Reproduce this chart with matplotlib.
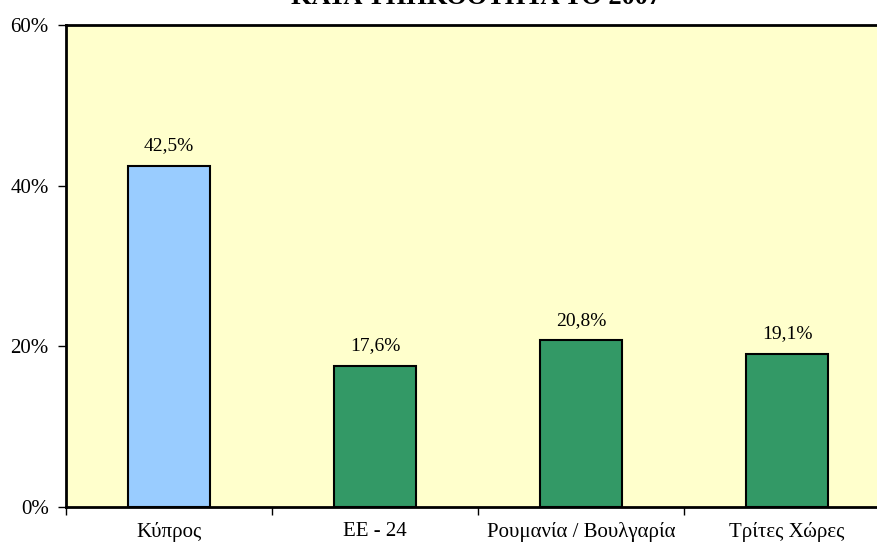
import matplotlib
matplotlib.use("Agg")
import matplotlib.pyplot as plt
import numpy as np

categories = ["Κύπρος", "ΕΕ - 24", "Ρουμανία / Βουλγαρία", "Τρίτες Χώρες"]
values = [42.5, 17.6, 20.8, 19.1]
labels = ["42,5%", "17,6%", "20,8%", "19,1%"]
colors = ["#99CCFF", "#339966", "#339966", "#339966"]
yticks = [0, 20, 40, 60]
ytick_labels = ["0%", "20%", "40%", "60%"]
title = "ΚΑΤΑ ΥΠΗΚΟΟΤΗΤΑ ΤΟ 2007"

plt.rcParams['font.family'] = ['Liberation Serif', 'DejaVu Serif']

W, H = 877, 549
fig = plt.figure(figsize=(W / 100, H / 100), dpi=100)
ax = fig.add_axes([66 / W, (H - 507) / H, 824 / W, 482 / H])
ax.set_facecolor("#FFFFCC")

x = np.arange(len(categories))
bars = ax.bar(x, values, width=0.4, color=colors, edgecolor="black", linewidth=1.5, zorder=3)
ax.set_xlim(-0.5, len(categories) - 0.5)
ax.set_ylim(0, 60)

ax.set_yticks(yticks)
ax.set_yticklabels(ytick_labels, fontsize=15)
ax.tick_params(axis='y', direction='out', length=6, width=1, pad=6.5)

ax.set_xticks(np.arange(len(categories) + 1) - 0.5)
ax.set_xticklabels([])
ax.tick_params(axis='x', direction='out', length=6, width=1)
ax.set_xticks(x, minor=True)
ax.set_xticklabels(categories, minor=True, fontsize=15)
ax.tick_params(axis='x', which='minor', length=0, pad=11)

for spine in ["left", "bottom", "top"]:
    ax.spines[spine].set_linewidth(2)
ax.spines["right"].set_visible(False)

for b, lab in zip(bars, labels):
    ax.annotate(lab, (b.get_x() + b.get_width() / 2, b.get_height()),
                xytext=(0, 8), textcoords="offset points",
                ha="center", va="bottom", fontsize=14)

fig.text(476 / W, 1 - 4.5 / H, title, ha="center", va="baseline",
         fontsize=19, fontweight="bold")

fig.savefig("out.png", dpi=100)
